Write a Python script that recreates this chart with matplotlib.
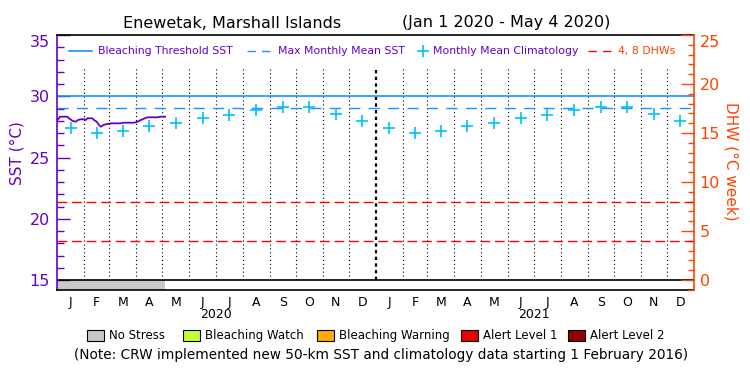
import numpy as np
import matplotlib
matplotlib.use('Agg')
import matplotlib.pyplot as plt
from matplotlib.ticker import MultipleLocator
from matplotlib.lines import Line2D
from matplotlib.patches import Rectangle
from matplotlib import transforms
from matplotlib import rcParams
rcParams['font.family'] = 'DejaVu Sans'

# data
station = "Enewetak, Marshall Islands"
period = "(Jan 1 2020 - May 4 2020)"

# daily SST (day of 2020, deg C)
sst_days = [0, 3.4, 11.8, 13.8, 17.6, 21.5, 24.1, 27.2, 31, 33, 34.8, 40.5, 42.5, 45.6,
            48.2, 50.2, 53.2, 57, 63, 73, 77, 88.4, 92.2, 98, 103.7, 115, 119, 124]
sst_vals = [28.00, 28.33, 28.33, 28.20, 28.00, 27.92, 28.06, 28.12, 28.12, 28.06, 28.20, 28.20,
            28.06, 27.92, 27.65, 27.51, 27.65, 27.73, 27.79, 27.79, 27.84, 27.84, 27.92, 28.12,
            28.28, 28.28, 28.33, 28.33]

# monthly mean climatology (Jan..Dec)
clim = [27.38, 26.98, 27.16, 27.57, 27.84, 28.25, 28.47, 28.88, 29.15, 29.10, 28.55, 27.98]
mmm = 29.05
bleach_thresh = mmm + 1.0
dhw_levels = [4, 8]
stress_end_day = 124  # no stress, Jan 1 - May 4 2020

month_letters = ['J', 'F', 'M', 'A', 'M', 'J', 'J', 'A', 'S', 'O', 'N', 'D']
month_len = [31, 29, 31, 30, 31, 30, 31, 31, 30, 31, 30, 31,
             31, 28, 31, 30, 31, 30, 31, 31, 30, 31, 30, 31]
years = ['2020', '2021']

alert_names = ['No Stress', 'Bleaching Watch', 'Bleaching Warning', 'Alert Level 1', 'Alert Level 2']
alert_colors = ['#C8C8C8', '#C8FF32', '#FFAA00', '#F00000', '#960000']

purple = '#6400C8'
orange = '#FF4500'
blue = '#1E90FF'
cyan = '#00C0FF'

W, H = 750, 375
def fx(x): return x / W
def fy(y): return 1 - y / H

fig = plt.figure(figsize=(7.5, 3.75), dpi=100)
ax = fig.add_axes([fx(57), fy(290), 637 / W, 255 / H])
ax2 = ax.twinx()

bounds = np.concatenate([[0], np.cumsum(month_len)])
mids = (bounds[:-1] + bounds[1:]) / 2.0

ax.set_xlim(0, bounds[-1])
ax.set_ylim(15 - 10 / 12.25, 35)
ax2.set_ylim(-10 / 9.8, 25)

# month grid
ax.vlines(bounds[1:-1][np.arange(len(bounds) - 2) != 11], 15, 32.4, colors='black',
          linestyles=(0, (1, 2.5)), lw=0.8)
ax.vlines([bounds[12]], 15, 32.4, colors='black', linestyles=(0, (1.5, 1.5)), lw=1.6)

# reference lines
ax.axhline(bleach_thresh, color=blue, lw=1.2)
ax.axhline(mmm, color=blue, lw=1.0, ls=(0, (8, 6)))
ax2.hlines(dhw_levels, 0, bounds[-1], colors='#FF0000', lw=1.0, linestyles=(0, (7, 3.5)))

# climatology crosses
ax.plot(mids, clim + clim, ls='none', marker='+', ms=8, mew=1.2, color=cyan)

# SST
ax.plot(sst_days, sst_vals, color=purple, lw=1.3)

# stress band
ax.axhline(15, color='black', lw=1.2)
ax.axvspan(0, stress_end_day, ymin=0, ymax=(10 / 12.25) / (35 - 15 + 10 / 12.25),
           color=alert_colors[0], lw=0)

# axes styling
ax.spines['right'].set_visible(False)
for s in ['left', 'top', 'bottom']:
    ax2.spines[s].set_visible(False)
ax.spines['left'].set_color(purple)
ax.spines['left'].set_linewidth(1.2)
ax.spines['top'].set_linewidth(1.2)
ax.spines['bottom'].set_linewidth(1.2)
ax2.spines['right'].set_color(orange)
ax2.spines['right'].set_linewidth(1.2)

ax.set_yticks([15, 20, 25, 30, 35])
ax.yaxis.set_minor_locator(MultipleLocator(1))
ax.tick_params(axis='y', which='major', direction='in', length=9.5, width=1,
               color=purple, labelcolor=purple, labelsize=11.5, pad=5)
ax.tick_params(axis='y', which='minor', direction='in', length=5, width=1, color=purple)
ax2.set_yticks([0, 5, 10, 15, 20, 25])
ax2.yaxis.set_minor_locator(MultipleLocator(1))
ax2.tick_params(axis='y', which='major', direction='in', length=9.5, width=1,
                color=orange, labelcolor=orange, labelsize=11.5, pad=4)
ax2.tick_params(axis='y', which='minor', direction='in', length=4.5, width=1, color=orange)
ax.get_yticklabels()[-1].set_va('top')
ax2.get_yticklabels()[-1].set_va('top')

ax.set_xticks(mids)
ax.set_xticklabels(month_letters * 2, fontsize=9)
ax.tick_params(axis='x', length=0, pad=4)

tr = transforms.blended_transform_factory(ax.transData, fig.transFigure)
ax.text(bounds[6], fy(315), years[0], transform=tr, ha='center', va='center', fontsize=9)
ax.text(bounds[18], fy(315), years[1], transform=tr, ha='center', va='center', fontsize=9)

# titles / labels
fig.text(fx(232), fy(23), station, ha='center', va='center', fontsize=11.5)
fig.text(fx(506), fy(23), period, ha='center', va='center', fontsize=11.5)
fig.text(fx(17), fy(153), 'SST (°C)', rotation=90, ha='center', va='center',
         fontsize=11, color=purple)
fig.text(fx(731), fy(161), 'DHW (°C week)', rotation=-90, ha='center', va='center',
         fontsize=11, color=orange)

# top legend
ly = fy(51)
lfs = 7.8
fig.add_artist(Line2D([fx(69), fx(92)], [ly, ly], color=blue, lw=1.2))
fig.text(fx(98), ly, 'Bleaching Threshold SST', color=purple, fontsize=lfs, va='center')
fig.add_artist(Line2D([fx(247), fx(274)], [ly, ly], color=blue, lw=1.0, ls=(0, (6, 4.5))))
fig.text(fx(278), ly, 'Max Monthly Mean SST', color=purple, fontsize=lfs, va='center')
fig.add_artist(Line2D([fx(422.7)], [ly], color=cyan, marker='+', ms=8, mew=1.2, ls='none'))
fig.text(fx(433), ly, 'Monthly Mean Climatology', color=purple, fontsize=lfs, va='center')
fig.add_artist(Line2D([fx(588), fx(612)], [ly, ly], color='#FF0000', lw=1.0, ls=(0, (6, 4.5))))
fig.text(fx(618), ly, '4, 8 DHWs', color=orange, fontsize=lfs, va='center')

# alert legend
box_x = [87, 183, 317, 461, 568]
for bx, name, c in zip(box_x, alert_names, alert_colors):
    fig.add_artist(Rectangle((fx(bx), fy(341)), 17 / W, 11 / H, transform=fig.transFigure,
                             facecolor=c, edgecolor='black', lw=0.8))
    fig.text(fx(bx + 22), fy(335.5), name, fontsize=8.5, va='center')

fig.text(fx(381), fy(355), '(Note: CRW implemented new 50-km SST and climatology data starting 1 February 2016)',
         ha='center', va='center', fontsize=9.8)

plt.savefig('out.png', dpi=100)
